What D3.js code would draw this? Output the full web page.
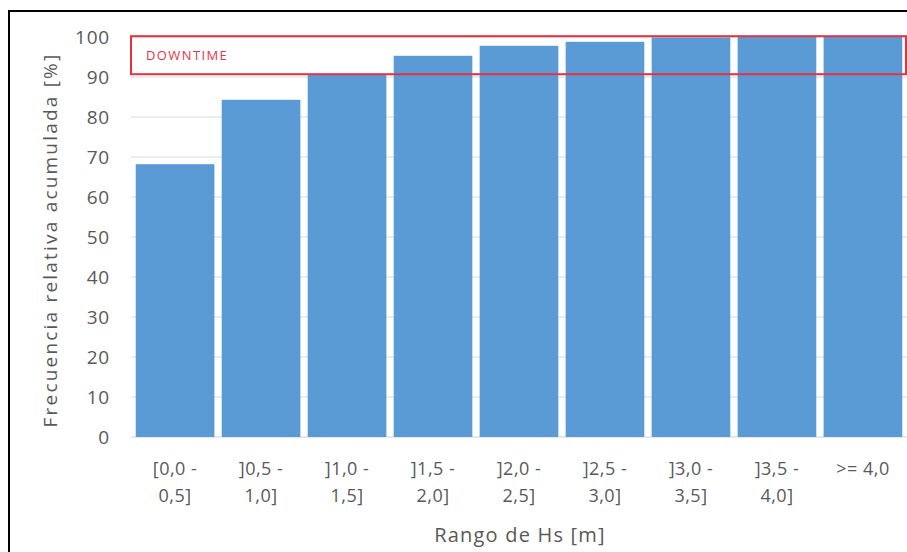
<!DOCTYPE html>
<html><head><meta charset="utf-8">
<script src="https://cdn.jsdelivr.net/npm/d3@7"></script>
<style>
html,body{margin:0;padding:0;background:#fff;}
svg{display:block;}
</style></head>
<body>
<svg id="chart" width="907" height="552"></svg>
<script>
const categories = [["[0,0 -","0,5]"],["]0,5 -","1,0]"],["]1,0 -","1,5]"],["]1,5 -","2,0]"],["]2,0 -","2,5]"],["]2,5 -","3,0]"],["]3,0 -","3,5]"],["]3,5 -","4,0]"],[">= 4,0"]];
const values = [68.2, 84.3, 90.5, 95.3, 97.8, 98.8, 99.9, 100, 100];
const yTicks = [0,10,20,30,40,50,60,70,80,90,100];
const downtimeRange = [90.7, 100.2];
const downtimeLabel = "DOWNTIME";
const yTitle = "Frecuencia relativa acumulada [%]";
const xTitle = "Rango de Hs [m]";

const svg = d3.select("#chart");
const font = "'Open Sans', sans-serif";
const grey = "#595959";

// outer frame
svg.append("rect").attr("x",9).attr("y",11).attr("width",920).attr("height",560)
  .attr("fill","none").attr("stroke","#000").attr("stroke-width",2);

const x = d3.scaleBand().domain(d3.range(categories.length)).range([131, 907])
  .paddingInner(0.085).paddingOuter(0.055);
const y = d3.scaleLinear().domain([0,100]).range([437,37]);

// gridlines
svg.append("g").selectAll("line").data(yTicks).join("line")
  .attr("x1",131).attr("x2",907)
  .attr("y1",d=>y(d)).attr("y2",d=>y(d))
  .attr("stroke",d=>d===0?"#d0d0d0":"#d9d9d9").attr("stroke-width",1);

// y labels
svg.append("g").selectAll("text").data(yTicks).join("text")
  .attr("x",110).attr("y",d=>y(d)).attr("dy","0.35em")
  .attr("text-anchor","end").attr("font-family",font).attr("font-size",19)
  .attr("letter-spacing",0.8)
  .attr("fill",grey).text(d=>d);

// bars
svg.append("g").selectAll("rect").data(values).join("rect")
  .attr("x",(d,i)=>x(i)).attr("width",x.bandwidth())
  .attr("y",d=>y(d)).attr("height",d=>y(0)-y(d))
  .attr("fill","#5b9bd5");

// x labels
const xl = svg.append("g").selectAll("text").data(categories).join("text")
  .attr("text-anchor","middle").attr("font-family",font).attr("font-size",18)
  .attr("letter-spacing",0.5)
  .attr("fill",grey)
  .attr("transform",(d,i)=>`translate(${x(i)+x.bandwidth()/2},475)`);
xl.selectAll("tspan").data(d=>d).join("tspan")
  .attr("x",0).attr("dy",(d,j)=>j===0?0:27).text(d=>d);

// downtime box
svg.append("rect").attr("x",131).attr("y",y(downtimeRange[1]))
  .attr("width",775).attr("height",y(downtimeRange[0])-y(downtimeRange[1]))
  .attr("fill","none").attr("stroke","#e8303f").attr("stroke-width",2);
svg.append("text").attr("x",146).attr("y",(y(downtimeRange[0])+y(downtimeRange[1]))/2)
  .attr("dy","0.35em").attr("font-family",font).attr("font-size",13)
  .attr("letter-spacing",1.4)
  .attr("fill","#e8344a").text(downtimeLabel);

// axis titles
svg.append("text").attr("transform","translate(50,240) rotate(-90)")
  .attr("text-anchor","middle").attr("dy","0.35em").attr("font-family",font)
  .attr("font-size",19).attr("letter-spacing",2.2).attr("fill",grey).text(yTitle);
svg.append("text").attr("x",520).attr("y",535).attr("dy","0.35em")
  .attr("text-anchor","middle").attr("font-family",font)
  .attr("font-size",20).attr("letter-spacing",1.2).attr("fill",grey).text(xTitle);
</script>
</body></html>
